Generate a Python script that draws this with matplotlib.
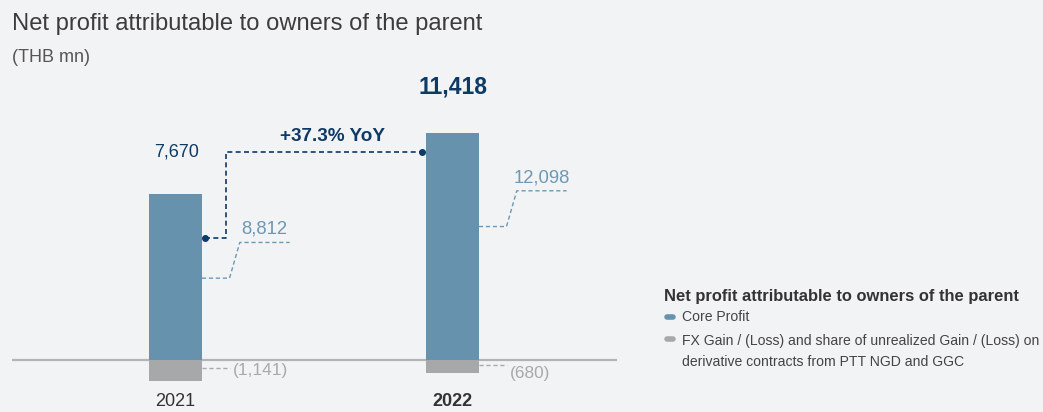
import numpy as np
import matplotlib.pyplot as plt
from matplotlib.lines import Line2D

plt.rcParams['font.family'] = ['Liberation Sans', 'DejaVu Sans']

# data (THB mn)
years = ['2021', '2022']
core_profit = [8812, 12098]
fx_gain = [-1141, -680]
net_profit = [7670, 11418]
yoy_text = '+37.3% YoY'
core_labels = ['8,812', '12,098']
fx_labels = ['(1,141)', '(680)']
net_labels = ['7,670', '11,418']

bg = '#F2F3F5'
blue = '#6792AD'
grey = '#A7A8AA'
navy = '#0E3A66'
light_blue = '#6E98B3'
light_grey = '#A8A9AB'

fig = plt.figure(figsize=(10.43, 4.12), dpi=100, facecolor=bg)
ax = fig.add_axes([0, 0, 1, 1])
ax.set_facecolor(bg)
ax.set_xlim(-0.6336, 3.1318)
ax.set_ylim(-52 * 53.2, 360 * 53.2)
ax.axis('off')

x = np.arange(len(years))
w = 0.191
ax.hlines(0, -0.59, 1.594, color='#B4B4B6', lw=1.6, zorder=1)
ax.bar(x, core_profit, width=w, color=blue, zorder=2)
ax.bar(x, fx_gain, width=w, color=grey, zorder=2)

# year labels
for i, yr in enumerate(years):
    ax.text(x[i], -2230, yr, ha='center', va='center', fontsize=13,
            color='#333333', fontweight='bold' if i == 1 else 'normal')

# core profit connectors (dashed, step up to the label)
start_frac = [0.494, 0.587]
for i in range(len(years)):
    y0 = core_profit[i] * start_frac[i]
    y1 = y0 + 1900
    xs = [x[i] + w / 2, x[i] + 0.195, x[i] + 0.232, x[i] + 0.412]
    ax.plot(xs, [y0, y0, y1, y1], color=light_blue, lw=1.0,
            ls=(0, (3, 2)), zorder=3)
    ax.text((xs[2] + xs[3]) / 2, y1 + 250, core_labels[i], ha='center',
            va='bottom', fontsize=13.3, color=light_blue)

# fx connectors
fx_line_y = [-450, -290]
fx_label_y = [-560, -740]
for i in range(len(years)):
    x_end = x[i] + 0.195
    ax.plot([x[i] + w / 2, x_end], [fx_line_y[i]] * 2, color=light_grey,
            lw=1.0, ls=(0, (3, 2)), zorder=3)
    ax.text(x_end + 0.012, fx_label_y[i], fx_labels[i], ha='left',
            va='center', fontsize=12.4, color=light_grey)

# net profit labels
ax.text(x[0] + 0.005, 11050, net_labels[0], ha='center', va='center',
        fontsize=13, color=navy)
ax.text(x[1], 14500, net_labels[1], ha='center', va='center',
        fontsize=16.5, color=navy, fontweight='bold')

# yoy connector
y_dot = 6490
y_top = 11050
xd0 = x[0] + w / 2 + 0.011
xv = x[0] + 0.182
xd1 = x[1] - w / 2 - 0.014
ax.plot([xd0, xv, xv, xd1], [y_dot, y_dot, y_top, y_top], color=navy,
        lw=1.2, ls=(0, (3, 2)), zorder=3)
ax.plot([xd0, xd1], [y_dot, y_top], 'o', color=navy, ms=4, zorder=4)
ax.text((xv + xd1) / 2 + 0.03, y_top + 400, yoy_text, ha='center',
        va='bottom', fontsize=13.6, color=navy, fontweight='bold')

# titles
fig.text(12 / 1043, 1 - 24 / 412, 'Net profit attributable to owners of the parent',
         ha='left', va='center', fontsize=17.1, color='#3C3C3C')
fig.text(12 / 1043, 1 - 57 / 412, '(THB mn)', ha='left', va='center',
         fontsize=13, color='#555555')

# legend
fig.text(664 / 1043, 1 - 297 / 412, 'Net profit attributable to owners of the parent',
         ha='left', va='center', fontsize=11.9, fontweight='bold', color='#333333')
legend_items = [(blue, 'Core Profit'),
                (grey, 'FX Gain / (Loss) and share of unrealized Gain / (Loss) on\n'
                       'derivative contracts from PTT NGD and GGC')]
item_y = [317, 339]
for (c, label), yy in zip(legend_items, item_y):
    fy = 1 - yy / 412
    fig.add_artist(Line2D([667 / 1043, 673 / 1043], [fy, fy], color=c, lw=4,
                          solid_capstyle='round', transform=fig.transFigure))
    fig.text(682 / 1043, fy + 5 / 412 if '\n' in label else fy, label,
             ha='left', va='top' if '\n' in label else 'center',
             fontsize=10.1, color='#444444', linespacing=1.68,
             transform=fig.transFigure)

fig.savefig('out.png', dpi=100, facecolor=bg)
